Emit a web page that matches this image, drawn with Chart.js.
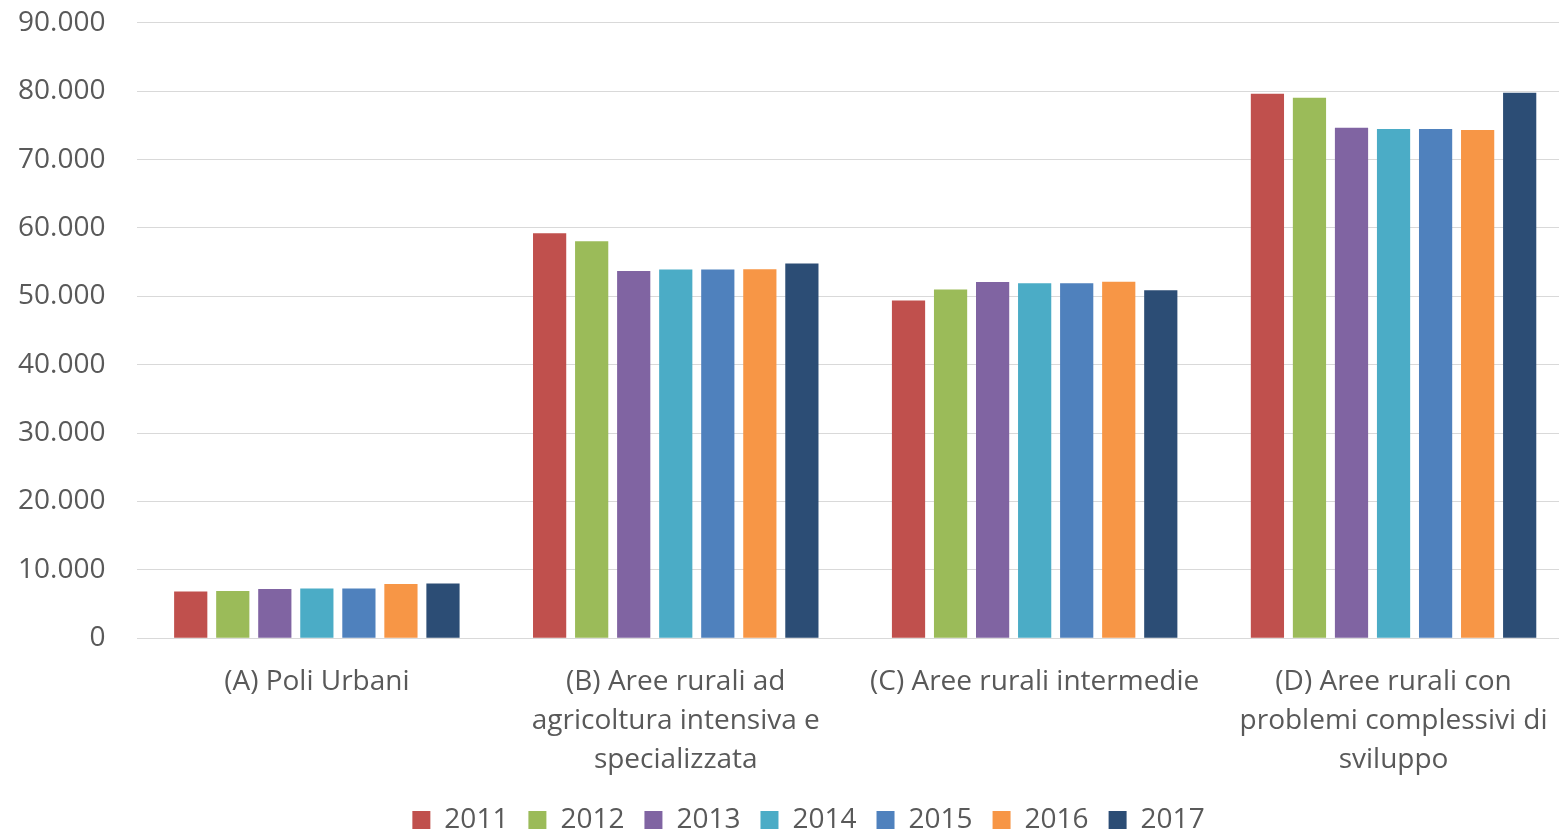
<!DOCTYPE html>
<html>
<head>
<meta charset="utf-8">
<script src="https://cdn.jsdelivr.net/npm/chart.js@4/dist/chart.umd.min.js"></script>
<style>
  html, body { margin: 0; padding: 0; background: #fff; overflow: hidden; }
  #clip { width: 1559px; height: 832px; overflow: hidden; position: relative; }
  #wrap { position: absolute; left: -30px; top: -26px; width: 1603px; height: 870px; }
</style>
</head>
<body>
<div id="clip"><div id="wrap"><canvas id="chart"></canvas></div></div>
<script>
// categories (multi-line labels as in the original)
const categories = [
  '(A) Poli Urbani',
  ['(B) Aree rurali ad', 'agricoltura intensiva e', 'specializzata'],
  '(C) Aree rurali intermedie',
  ['(D) Aree rurali con', 'problemi complessivi di', 'sviluppo']
];

// one array per year
const y2011 = [6820, 59220, 49390, 79630];
const y2012 = [6910, 58050, 50990, 79050];
const y2013 = [7200, 53720, 52110, 74660];
const y2014 = [7260, 53910, 51910, 74470];
const y2015 = [7260, 53910, 51910, 74470];
const y2016 = [7930, 53960, 52130, 74320];
const y2017 = [7990, 54790, 50890, 79780];

const years = ['2011', '2012', '2013', '2014', '2015', '2016', '2017'];
const series = [y2011, y2012, y2013, y2014, y2015, y2016, y2017];
const colors = ['#c0504d', '#9bbb59', '#8064a2', '#4bacc6', '#4f81bd', '#f79646', '#2c4d75'];

const yTicks = [0, 10000, 20000, 30000, 40000, 50000, 60000, 70000, 80000, 90000];

function fmt(v) {
  return String(v).replace(/\B(?=(\d{3})+(?!\d))/g, '.');
}

const textColor = '#595959';
const fontFamily = '"Open Sans", "Liberation Sans", sans-serif';

// the legend in the original sits a bit right of the canvas centre
const legendShift = {
  id: 'legendShift',
  afterLayout(chart) {
    chart.legend.left += 29;
    chart.legend.right += 29;
  }
};

new Chart(document.getElementById('chart'), {
  type: 'bar',
  data: {
    labels: categories,
    datasets: years.map((y, i) => ({
      label: y,
      data: series[i],
      backgroundColor: colors[i],
      borderWidth: 0,
      categoryPercentage: 0.82,
      barPercentage: 0.79
    }))
  },
  plugins: [legendShift],
  options: {
    responsive: true,
    maintainAspectRatio: false,
    animation: false,
    layout: { padding: { left: 16, right: 0, top: 0, bottom: 0 } },
    plugins: {
      tooltip: { enabled: false },
      legend: {
        position: 'bottom',
        labels: {
          color: textColor,
          font: { family: fontFamily, size: 28 },
          boxWidth: 18,
          boxHeight: 18,
          padding: 20
        }
      }
    },
    scales: {
      x: {
        grid: { display: false, drawTicks: false },
        border: { display: true, color: '#d9d9d9', width: 1 },
        ticks: {
          color: textColor,
          font: { family: fontFamily, size: 28, lineHeight: 1.39 },
          maxRotation: 0,
          minRotation: 0,
          padding: 24
        },
        // pull the legend closer to the category labels
        afterFit: (scale) => { scale.height -= 17; }
      },
      y: {
        min: 0,
        max: 90000,
        afterBuildTicks: (axis) => { axis.ticks = yTicks.map(v => ({ value: v })); },
        grid: { color: '#d9d9d9', lineWidth: 1, drawTicks: false },
        border: { display: false },
        ticks: {
          color: textColor,
          font: { family: fontFamily, size: 28 },
          padding: 32,
          callback: (v) => fmt(v)
        }
      }
    }
  }
});
</script>
</body>
</html>
